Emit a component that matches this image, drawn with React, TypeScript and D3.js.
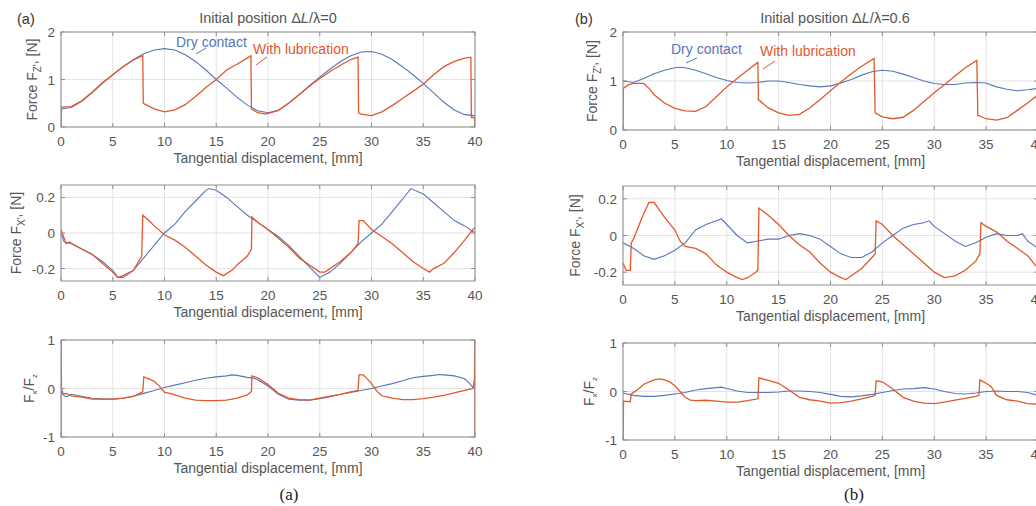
import React from "react";
import * as d3 from "d3";

type Pt = [number, number];

const xTicks = [0, 5, 10, 15, 20, 25, 30, 35, 40];
const fzTicks = [0, 1, 2];
const fxTicks = [-0.2, 0, 0.2];
const ratioTicks = [-1, 0, 1];

// (a) Initial position dL/lambda = 0
const aFzDry: Pt[] = [[0,0.38],[1,0.41],[2,0.54],[3,0.72],[4,0.92],[5,1.1],[6,1.27],[7,1.42],[8,1.54],[9,1.62],[10,1.65],[11,1.62],[12,1.52],[13,1.38],[14,1.2],[15,1.0],[16,0.82],[17,0.63],[18,0.46],[19,0.34],[20,0.3],[21,0.35],[22,0.5],[23,0.68],[24,0.87],[25,1.05],[26,1.22],[27,1.38],[28,1.5],[29,1.58],[30,1.59],[31,1.53],[32,1.42],[33,1.27],[34,1.1],[35,0.92],[36,0.72],[37,0.52],[38,0.36],[39,0.26],[40,0.24]];
const aFzLub: Pt[] = [[0,0],[0.05,0.42],[1,0.43],[2,0.55],[3,0.73],[4,0.93],[5,1.1],[6,1.27],[7,1.41],[7.9,1.5],[7.95,0.5],[9,0.38],[10,0.32],[11,0.36],[12,0.47],[13,0.64],[14,0.83],[15,1.0],[16,1.2],[17,1.32],[18,1.45],[18.35,1.5],[18.4,0.38],[19,0.3],[19.8,0.27],[21,0.35],[22,0.5],[23,0.68],[24,0.86],[25,1.02],[26,1.17],[27,1.3],[28,1.42],[28.7,1.47],[28.75,0.3],[29,0.27],[30,0.24],[31,0.32],[32,0.45],[33,0.6],[34,0.75],[35,0.9],[36,1.1],[37,1.27],[38,1.38],[39,1.45],[39.6,1.47],[39.65,0.2],[39.95,0.2],[40,0]];
const aFxDry: Pt[] = [[0,0],[0.3,-0.05],[1,-0.06],[2,-0.09],[3,-0.12],[4,-0.16],[5,-0.21],[5.5,-0.25],[6,-0.25],[7,-0.21],[8,-0.14],[9,-0.07],[10,0.0],[11,0.05],[12,0.12],[13,0.18],[14,0.24],[14.3,0.25],[15,0.24],[16,0.2],[17,0.15],[18,0.1],[19,0.06],[20,0.02],[21,-0.02],[22,-0.07],[23,-0.13],[24,-0.19],[25,-0.25],[26,-0.22],[27,-0.17],[28,-0.11],[29,-0.05],[30,0.0],[31,0.05],[32,0.12],[33,0.19],[33.8,0.25],[35,0.22],[36,0.17],[37,0.12],[38,0.07],[39,0.04],[40,0.0]];
const aFxLub: Pt[] = [[0,0.02],[0.5,-0.06],[0.8,-0.05],[2,-0.09],[3,-0.12],[4,-0.17],[5,-0.22],[5.5,-0.25],[6,-0.24],[7,-0.21],[7.8,-0.13],[7.9,0.1],[8.5,0.07],[9,0.04],[10,-0.01],[11,-0.04],[12,-0.08],[13,-0.13],[14,-0.18],[15,-0.22],[15.7,-0.24],[16.5,-0.21],[17,-0.18],[18,-0.13],[18.4,-0.09],[18.45,0.09],[19,0.06],[20,0.02],[21,-0.03],[22,-0.08],[23,-0.14],[24,-0.18],[25,-0.22],[25.5,-0.22],[26,-0.2],[27,-0.16],[28,-0.11],[28.7,-0.06],[28.8,0.07],[29.2,0.07],[30,0.02],[31,-0.02],[32,-0.06],[33,-0.11],[34,-0.16],[35,-0.2],[35.6,-0.22],[36,-0.2],[37,-0.17],[38,-0.11],[39,-0.04],[39.8,0.02],[40,0.03]];
const aRatioDry: Pt[] = [[0,0],[0.3,-0.15],[0.6,-0.17],[1,-0.12],[2,-0.16],[3,-0.2],[4,-0.22],[5,-0.22],[6,-0.2],[7,-0.16],[8,-0.1],[9,-0.04],[10,0.02],[11,0.07],[12,0.12],[13,0.17],[14,0.21],[15,0.24],[16,0.26],[16.5,0.28],[17,0.27],[18,0.23],[18.5,0.22],[19,0.18],[20,0.05],[21,-0.12],[22,-0.22],[23,-0.24],[24,-0.24],[25,-0.21],[26,-0.17],[27,-0.12],[28,-0.08],[29,-0.04],[30,0.0],[31,0.05],[32,0.1],[33,0.16],[34,0.22],[35,0.25],[36,0.27],[36.5,0.29],[37,0.28],[38,0.26],[39,0.2],[39.5,0.1],[39.8,0.02],[40,0.0]];
const aRatioLub: Pt[] = [[0,-1.2],[0,1.2],[0.05,-0.12],[0.5,-0.1],[1,-0.15],[2,-0.18],[3,-0.22],[4,-0.22],[5,-0.22],[6,-0.2],[7,-0.16],[7.9,-0.07],[8,0.24],[8.5,0.2],[9,0.15],[9.5,0.05],[10,-0.08],[10.5,-0.1],[11,-0.13],[12,-0.2],[13,-0.24],[14,-0.25],[15,-0.25],[16,-0.24],[17,-0.2],[18,-0.13],[18.4,-0.06],[18.45,0.26],[19,0.22],[20,0.08],[21,-0.1],[22,-0.2],[23,-0.23],[24,-0.24],[25,-0.2],[26,-0.16],[27,-0.12],[28,-0.07],[28.7,-0.04],[28.8,0.28],[29.2,0.28],[29.5,0.22],[30,0.1],[30.5,-0.05],[31,-0.15],[32,-0.2],[33,-0.23],[34,-0.23],[35,-0.21],[36,-0.18],[37,-0.14],[38,-0.09],[39,-0.04],[39.8,0.0],[39.95,0.2],[40,1.2],[40,-1.2]];

// (b) Initial position dL/lambda = 0.6
const bFzDry: Pt[] = [[0,1.0],[1,0.97],[2,1.05],[3,1.15],[4,1.22],[5,1.27],[5.5,1.28],[6,1.27],[7,1.22],[8,1.15],[9,1.07],[10,1.01],[11,0.97],[12,0.96],[13,0.97],[14,1.0],[15,1.0],[16,0.97],[17,0.93],[18,0.9],[19,0.88],[20,0.9],[21,0.96],[22,1.03],[23,1.12],[24,1.19],[25,1.22],[26,1.2],[27,1.14],[28,1.07],[29,1.0],[30,0.95],[31,0.93],[32,0.93],[33,0.96],[34,0.97],[35,0.96],[36,0.88],[37,0.83],[38,0.8],[39,0.82],[40,0.85]];
const bFzLub: Pt[] = [[0,0],[0.02,0.85],[0.5,0.92],[1,0.95],[2,0.95],[2.5,0.85],[3,0.72],[4,0.55],[5,0.44],[6,0.39],[7,0.38],[8,0.48],[9,0.68],[10,0.88],[11,1.05],[12,1.22],[13,1.38],[13.05,0.62],[14,0.45],[15,0.35],[16,0.3],[17,0.32],[18,0.45],[19,0.62],[20,0.8],[21,0.98],[22,1.15],[23,1.3],[24.2,1.46],[24.3,0.35],[25,0.27],[26,0.23],[27,0.26],[28,0.4],[29,0.58],[30,0.76],[31,0.93],[32,1.1],[33,1.27],[34.1,1.42],[34.2,0.3],[35,0.23],[36,0.2],[37,0.25],[38,0.4],[39,0.55],[40,0.72]];
const bFxDry: Pt[] = [[0,-0.04],[1,-0.07],[2,-0.11],[3,-0.13],[4,-0.11],[5,-0.08],[6,-0.04],[7,0.03],[8,0.06],[9,0.08],[9.5,0.09],[10,0.06],[11,0.0],[12,-0.04],[13,-0.03],[14,-0.02],[15,-0.02],[16,0.0],[17,0.01],[18,0.0],[19,-0.02],[20,-0.06],[21,-0.1],[22,-0.12],[23,-0.12],[24,-0.09],[25,-0.04],[26,0.0],[27,0.04],[28,0.06],[29,0.07],[29.5,0.08],[30,0.05],[31,0.01],[32,-0.03],[33,-0.06],[34,-0.04],[35,-0.01],[36,0.01],[37,0.0],[38,0.0],[38.5,0.01],[39,-0.03],[40,-0.07]];
const bFxLub: Pt[] = [[0,-0.15],[0.3,-0.19],[0.7,-0.19],[0.8,-0.04],[1,-0.02],[1.5,0.05],[2,0.12],[2.5,0.18],[3,0.18],[3.5,0.14],[4,0.1],[5,0.03],[5.5,-0.03],[6,-0.06],[7,-0.07],[8,-0.1],[9,-0.16],[10,-0.2],[11,-0.23],[11.5,-0.24],[12,-0.23],[12.8,-0.2],[13,-0.19],[13.1,0.15],[14,0.11],[15,0.06],[16,0.0],[17,-0.05],[18,-0.09],[19,-0.15],[20,-0.2],[21,-0.23],[21.5,-0.24],[22,-0.22],[23,-0.18],[24,-0.12],[24.3,-0.1],[24.4,0.08],[25,0.06],[26,0.0],[27,-0.05],[28,-0.1],[29,-0.15],[30,-0.2],[31,-0.23],[32,-0.22],[33,-0.19],[34,-0.14],[34.4,-0.1],[34.5,0.07],[35,0.05],[36,0.02],[37,-0.03],[38,-0.07],[39,-0.11],[40,-0.18]];
const bRatioDry: Pt[] = [[0,-0.03],[1,-0.08],[2,-0.1],[3,-0.1],[4,-0.08],[5,-0.05],[6,-0.02],[7,0.03],[8,0.06],[9,0.08],[9.5,0.09],[10,0.06],[11,0.01],[12,-0.02],[13,-0.02],[14,-0.02],[15,-0.01],[16,0.01],[17,0.01],[18,0.0],[19,-0.02],[20,-0.06],[21,-0.1],[22,-0.11],[23,-0.09],[24,-0.06],[25,-0.02],[26,0.02],[27,0.05],[28,0.06],[29,0.08],[30,0.05],[31,0.0],[32,-0.04],[33,-0.05],[34,-0.03],[35,0.0],[36,0.01],[37,0.0],[38,0.0],[39,-0.02],[40,-0.08]];
const bRatioLub: Pt[] = [[0,-1.2],[0.05,-0.2],[0.7,-0.21],[0.8,-0.05],[1.5,0.05],[2,0.15],[3,0.24],[3.5,0.26],[4,0.24],[4.5,0.2],[5,0.12],[5.5,0.0],[6,-0.12],[6.5,-0.18],[7,-0.19],[8,-0.18],[9,-0.2],[10,-0.22],[11,-0.22],[12,-0.19],[13,-0.15],[13.1,0.28],[14,0.23],[15,0.17],[16,0.03],[17,-0.12],[18,-0.17],[19,-0.2],[20,-0.24],[21,-0.23],[22,-0.2],[23,-0.15],[24,-0.1],[24.3,-0.08],[24.4,0.22],[25,0.2],[26,0.05],[27,-0.12],[28,-0.2],[29,-0.24],[30,-0.25],[31,-0.22],[32,-0.18],[33,-0.14],[34,-0.1],[34.3,-0.08],[34.4,0.24],[35,0.17],[35.5,0.1],[36,-0.08],[37,-0.17],[38,-0.2],[39,-0.25],[40,-0.26]];

const BLUE = "#5577bb";
const ORANGE = "#e2582c";
const FONT = "'Liberation Sans', Arial, Helvetica, sans-serif";
const TICK = "#555";

type PanelProps = {
  id: string;
  x0: number; x1: number; yTop: number; yBot: number;
  yDomain: [number, number]; yTicks: number[];
  dry: Pt[]; lub: Pt[];
  yLabel: React.ReactNode; yLabelX: number;
  fmt: (v: number) => string;
};

function Panel(p: PanelProps) {
  const x = d3.scaleLinear().domain([0, 40]).range([p.x0, p.x1]);
  const y = d3.scaleLinear().domain(p.yDomain).range([p.yBot, p.yTop]);
  const line = d3.line<Pt>().x(d => x(d[0])).y(d => y(d[1]));
  const cy = (p.yTop + p.yBot) / 2;
  return (
    <g>
      <defs>
        <clipPath id={p.id}>
          <rect x={p.x0} y={p.yTop} width={p.x1 - p.x0} height={p.yBot - p.yTop} />
        </clipPath>
      </defs>
      {xTicks.map(t => (
        <line key={"gx" + t} x1={x(t)} x2={x(t)} y1={p.yTop} y2={p.yBot} stroke="#e3e3e3" strokeWidth={1} />
      ))}
      {p.yTicks.map(t => (
        <line key={"gy" + t} x1={p.x0} x2={p.x1} y1={y(t)} y2={y(t)} stroke="#e3e3e3" strokeWidth={1} />
      ))}
      <g clipPath={`url(#${p.id})`}>
        <path d={line(p.dry) || ""} fill="none" stroke={BLUE} strokeWidth={1.1} />
        <path d={line(p.lub) || ""} fill="none" stroke={ORANGE} strokeWidth={1.3} />
      </g>
      <rect x={p.x0} y={p.yTop} width={p.x1 - p.x0} height={p.yBot - p.yTop} fill="none" stroke="#8f8f8f" strokeWidth={1} />
      {xTicks.map(t => (
        <g key={"tx" + t}>
          <line x1={x(t)} x2={x(t)} y1={p.yBot} y2={p.yBot - 4} stroke="#8f8f8f" />
          <line x1={x(t)} x2={x(t)} y1={p.yTop} y2={p.yTop + 4} stroke="#8f8f8f" />
          <text x={x(t)} y={p.yBot + 19} textAnchor="middle" fontSize={13.5} fill={TICK} fontFamily={FONT}>{t}</text>
        </g>
      ))}
      {p.yTicks.map(t => (
        <g key={"ty" + t}>
          <line x1={p.x0} x2={p.x0 + 4} y1={y(t)} y2={y(t)} stroke="#8f8f8f" />
          <line x1={p.x1} x2={p.x1 - 4} y1={y(t)} y2={y(t)} stroke="#8f8f8f" />
          <text x={p.x0 - 6} y={y(t) + 5} textAnchor="end" fontSize={13.5} fill={TICK} fontFamily={FONT}>{p.fmt(t)}</text>
        </g>
      ))}
      <text x={(p.x0 + p.x1) / 2} y={p.yBot + 36} textAnchor="middle" fontSize={14} fill={TICK} fontFamily={FONT}>
        Tangential displacement, [mm]
      </text>
      <text transform={`translate(${p.yLabelX},${cy}) rotate(-90)`} textAnchor="middle" fontSize={14} fill={TICK} fontFamily={FONT}>
        {p.yLabel}
      </text>
    </g>
  );
}

const fzLabel = (
  <>
    Force F<tspan dy={4} fontSize={10}>Z'</tspan><tspan dy={-4}>, [N]</tspan>
  </>
);
const fxLabel = (
  <>
    Force F<tspan dy={4} fontSize={10}>X'</tspan><tspan dy={-4}>, [N]</tspan>
  </>
);
const ratioLabel = (
  <>
    F<tspan dy={3} fontSize={8}>x</tspan><tspan dy={-3}>/F</tspan><tspan dy={3} fontSize={8}>z</tspan>
  </>
);

const fmtInt = (v: number) => String(v);
const fmtDec = (v: number) => (v === 0 ? "0" : v.toFixed(1));

function Title({ x, value }: { x: number; value: string }) {
  return (
    <text x={x} y={23} textAnchor="middle" fontSize={14.5} fill={TICK} fontFamily={FONT}>
      Initial position Δ<tspan fontStyle="italic">L</tspan>/λ={value}
    </text>
  );
}

export default function App() {
  const ax0 = 61, ax1 = 475, bx0 = 623, bx1 = 1038;
  return (
    <svg width={1036} height={506} style={{ position: "absolute", left: 0, top: 0, background: "#fff" }}>
      <rect width={1036} height={506} fill="#fff" />
      {/* (a) */}
      <text x={17} y={24} fontSize={14.5} fill="#333" fontFamily={FONT}>(a)</text>
      <Title x={268} value="0" />
      <Panel id="c1" x0={ax0} x1={ax1} yTop={32} yBot={127} yDomain={[0, 2]} yTicks={fzTicks} dry={aFzDry} lub={aFzLub} yLabel={fzLabel} yLabelX={37} fmt={fmtInt} />
      <Panel id="c2" x0={ax0} x1={ax1} yTop={185} yBot={281} yDomain={[-0.27, 0.27]} yTicks={fxTicks} dry={aFxDry} lub={aFxLub} yLabel={fxLabel} yLabelX={21} fmt={fmtDec} />
      <Panel id="c3" x0={ax0} x1={ax1} yTop={340} yBot={437} yDomain={[-1, 1]} yTicks={ratioTicks} dry={aRatioDry} lub={aRatioLub} yLabel={ratioLabel} yLabelX={34} fmt={fmtInt} />
      <text x={176} y={47} fontSize={14} fill={BLUE} fontFamily={FONT}>Dry contact</text>
      <line x1={196} y1={54} x2={206} y2={48} stroke={BLUE} strokeWidth={1} />
      <text x={253} y={54} fontSize={14} fill={ORANGE} fontFamily={FONT}>With lubrication</text>
      <line x1={256} y1={65} x2={267} y2={57} stroke={ORANGE} strokeWidth={1} />
      <text x={289} y={500} textAnchor="middle" fontSize={17} fill="#222" fontFamily="'Liberation Serif', 'Times New Roman', serif">(a)</text>

      {/* (b) */}
      <text x={575} y={24} fontSize={14.5} fill="#333" fontFamily={FONT}>(b)</text>
      <Title x={835} value="0.6" />
      <Panel id="c4" x0={bx0} x1={bx1} yTop={32} yBot={130} yDomain={[0, 2]} yTicks={fzTicks} dry={bFzDry} lub={bFzLub} yLabel={fzLabel} yLabelX={597} fmt={fmtInt} />
      <Panel id="c5" x0={bx0} x1={bx1} yTop={186} yBot={285} yDomain={[-0.27, 0.27]} yTicks={fxTicks} dry={bFxDry} lub={bFxLub} yLabel={fxLabel} yLabelX={580} fmt={fmtDec} />
      <Panel id="c6" x0={bx0} x1={bx1} yTop={343} yBot={440} yDomain={[-1, 1]} yTicks={ratioTicks} dry={bRatioDry} lub={bRatioLub} yLabel={ratioLabel} yLabelX={594} fmt={fmtInt} />
      <text x={671} y={54} fontSize={14} fill={BLUE} fontFamily={FONT}>Dry contact</text>
      <line x1={686} y1={63} x2={697} y2={58} stroke={BLUE} strokeWidth={1} />
      <text x={760} y={56} fontSize={14} fill={ORANGE} fontFamily={FONT}>With lubrication</text>
      <line x1={763} y1={69} x2={775} y2={61} stroke={ORANGE} strokeWidth={1} />
      <text x={854} y={500} textAnchor="middle" fontSize={17} fill="#222" fontFamily="'Liberation Serif', 'Times New Roman', serif">(b)</text>
    </svg>
  );
}
